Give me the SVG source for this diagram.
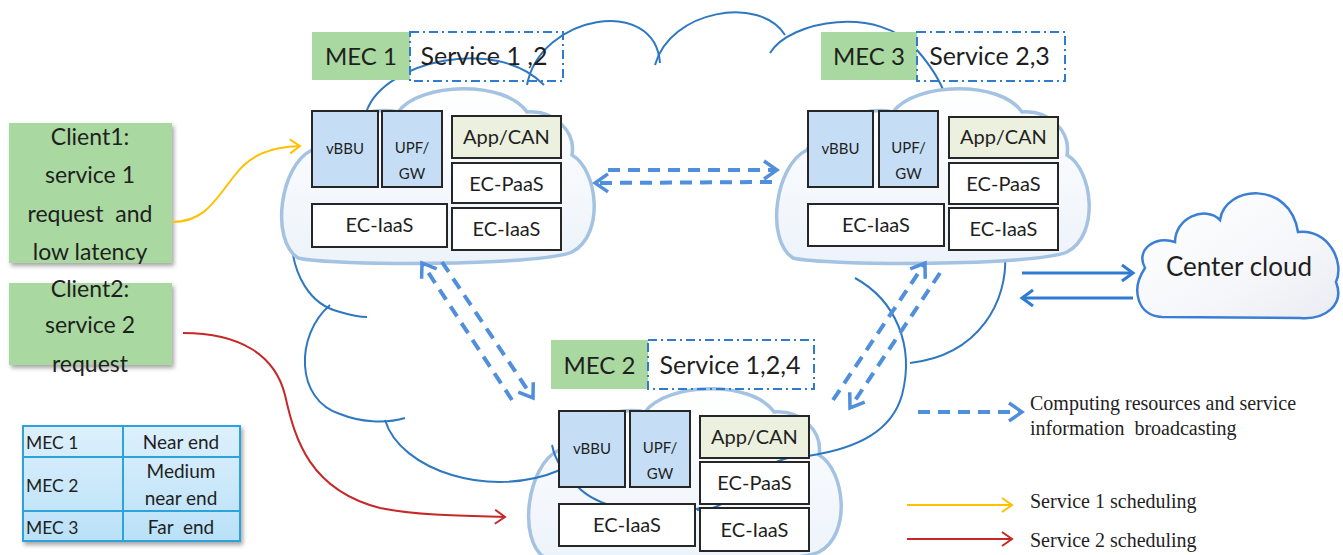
<svg xmlns="http://www.w3.org/2000/svg" width="1343" height="555" viewBox="0 0 1343 555">
<style>
  .ui{font-family:Lato,"Open Sans","Liberation Sans",sans-serif;fill:#1f1f1f}
  .mecName{font-size:24px;text-anchor:middle}
  .svcTxt{font-size:25px;text-anchor:middle}
  .comp{stroke:#262626;stroke-width:2}
  .blueFill{fill:#C5DEF6}
  .appFill{fill:#EBF1DE}
  .plain{fill:#ffffff}
  .greenLbl{fill:#A9D8A0}
  .svcBox{fill:none;stroke:#2F7BD0;stroke-width:2;stroke-dasharray:9 4 2 4}
  .t20{font-size:20px;text-anchor:middle}
  .t15{font-size:15px;text-anchor:middle}
  .bigCloud{fill:none;stroke:#2E78C2;stroke-width:2}
  .mecCloud{fill:url(#mecCloudFill);stroke:#A4C2E2;stroke-width:3.5}
  .bcast{fill:none;stroke:#4F8FDB;stroke-width:4;stroke-dasharray:12 8}
  .toCenter{fill:none;stroke:#2F7BD3;stroke-width:3}
  .svc1{fill:none;stroke:#FFC000;stroke-width:2}
  .svc2{fill:none;stroke:#C62828;stroke-width:2}
  .client{fill:#A9D9A0}
  .clientTxt{font-size:23px;text-anchor:middle}
  .tblTxt{font-size:19px}
  .tblKey{font-size:17.5px}
  .legend{font-family:"Liberation Serif","Times New Roman",serif;font-size:20px;fill:#1f1f1f}
</style>
<defs>
  <linearGradient id="mecCloudFill" x1="0" y1="0" x2="0" y2="1">
    <stop offset="0" stop-color="#FFFFFF"/>
    <stop offset="1" stop-color="#EDF3FA"/>
  </linearGradient>
  <linearGradient id="centerFill" x1="0" y1="0" x2="1" y2="1">
    <stop offset="0" stop-color="#FFFFFF"/>
    <stop offset="0.6" stop-color="#F6F7FA"/>
    <stop offset="1" stop-color="#E9ECF2"/>
  </linearGradient>
  <linearGradient id="cellFill" x1="0" y1="0" x2="0" y2="1">
    <stop offset="0" stop-color="#DDF0FC"/>
    <stop offset="1" stop-color="#B9E1F8"/>
  </linearGradient>
  <filter id="shadow" x="-10%" y="-10%" width="125%" height="130%">
    <feDropShadow dx="2" dy="3" stdDeviation="2" flood-color="#000" flood-opacity="0.35"/>
  </filter>
  <filter id="soft" x="-5%" y="-5%" width="110%" height="110%">
    <feGaussianBlur stdDeviation="0.7"/>
  </filter>
  <path id="mecCloudShape" d="M 298 258 C 270 240, 280 165, 312 150 C 325 122, 370 106, 398 112 C 420 82, 505 80, 527 112 C 555 110, 576 132, 572 155 C 598 170, 605 235, 572 252 C 540 266, 330 266, 298 258 Z"/>
  <marker id="hBcast" viewBox="-16 -11 19 22" refX="0" refY="0" markerWidth="19" markerHeight="22" markerUnits="userSpaceOnUse" orient="auto">
    <path d="M -13 -9 L 0 0 L -13 9" fill="none" stroke="#4F8FDB" stroke-width="3.5"/>
  </marker>
  <marker id="hCenter" viewBox="-14 -10 17 20" refX="0" refY="0" markerWidth="17" markerHeight="20" markerUnits="userSpaceOnUse" orient="auto">
    <path d="M -11 -8 L 0 0 L -11 8" fill="none" stroke="#2F7BD3" stroke-width="3"/>
  </marker>
  <marker id="hYellow" viewBox="-12 -9 14 18" refX="0" refY="0" markerWidth="14" markerHeight="18" markerUnits="userSpaceOnUse" orient="auto">
    <path d="M -10 -7 L 0 0 L -10 7" fill="none" stroke="#FFC000" stroke-width="2"/>
  </marker>
  <marker id="hRed" viewBox="-12 -9 14 18" refX="0" refY="0" markerWidth="14" markerHeight="18" markerUnits="userSpaceOnUse" orient="auto">
    <path d="M -10 -7 L 0 0 L -10 7" fill="none" stroke="#C62828" stroke-width="2"/>
  </marker>
</defs>

<rect width="1343" height="555" fill="#ffffff"/>

<!-- MEC 2 edge cloud sits under the outline of the shared cloud -->
<g id="mec2-cloud">
  <use href="#mecCloudShape" class="mecCloud" filter="url(#soft)" transform="translate(247,300)"/>
</g>

<!-- outline of the shared edge cloud -->
<g id="edge-cloud" class="bigCloud">
  <path d="M 367 110 C 385 62, 495 35, 544 85"/>
  <path d="M 527 85 C 540 15, 655 -5, 660 63"/>
  <path d="M 655 65 C 670 10, 760 -5, 785 35"/>
  <path d="M 770 53 C 790 20, 880 5, 917 50 C 930 65, 940 80, 945 95"/>
  <path d="M 1005 255 C 1008 300, 980 355, 910 363"/>
  <path d="M 855 278 C 895 300, 915 345, 902 395 C 892 430, 860 448, 808 456"/>
  <path d="M 808 456 C 780 455, 755 470, 740 490 C 725 505, 712 510, 697 510"/>
  <path d="M 700 508 C 660 520, 600 510, 578 487 C 565 475, 555 460, 552 445"/>
  <path d="M 385 420 C 400 470, 490 500, 560 470"/>
  <path d="M 330 305 C 295 335, 295 400, 340 414 C 360 422, 385 424, 405 418"/>
  <path d="M 291 235 C 292 275, 310 305, 340 312 C 350 315, 360 317, 367 317"/>
</g>

<g id="mec1-cloud">
  <use href="#mecCloudShape" class="mecCloud" filter="url(#soft)"/>
</g>
<g id="mec3-cloud">
  <use href="#mecCloudShape" class="mecCloud" filter="url(#soft)" transform="translate(495,0)"/>
</g>

<!-- MEC 1 -->
<g id="mec1" class="ui">
  <rect x="312" y="32" width="98" height="48" class="greenLbl"/>
  <text x="361" y="65" class="ui mecName">MEC 1</text>
  <rect x="410" y="32" width="153" height="49" class="svcBox"/>
  <text x="484" y="65" class="ui svcTxt" xml:space="preserve">Service 1 ,2</text>
  <rect x="312" y="111" width="66" height="76" class="comp blueFill"/>
  <text x="345" y="154" class="ui t15">vBBU</text>
  <rect x="382" y="111" width="60" height="76" class="comp blueFill"/>
  <text x="412" y="153" class="ui t15">UPF/</text>
  <text x="412" y="179" class="ui t15">GW</text>
  <rect x="452" y="116" width="109" height="42" class="comp appFill"/>
  <text x="506.5" y="144" class="ui t20">App/CAN</text>
  <rect x="452" y="163" width="109" height="40" class="comp plain"/>
  <text x="506.5" y="191" class="ui t20">EC-PaaS</text>
  <rect x="452" y="208" width="109" height="42" class="comp plain"/>
  <text x="506.5" y="236" class="ui t20">EC-IaaS</text>
  <rect x="312" y="204" width="135" height="43" class="comp plain"/>
  <text x="379.5" y="232" class="ui t20">EC-IaaS</text>
</g>

<!-- MEC 3 -->
<g id="mec3" class="ui">
  <rect x="821" y="32" width="96" height="48" class="greenLbl"/>
  <text x="869" y="65" class="ui mecName">MEC 3</text>
  <rect x="917" y="32" width="148" height="49" class="svcBox"/>
  <text x="989.5" y="65" class="ui svcTxt">Service 2,3</text>
  <rect x="808" y="111" width="65" height="76" class="comp blueFill"/>
  <text x="840.5" y="154" class="ui t15">vBBU</text>
  <rect x="879" y="111" width="59" height="76" class="comp blueFill"/>
  <text x="908.5" y="153" class="ui t15">UPF/</text>
  <text x="908.5" y="179" class="ui t15">GW</text>
  <rect x="949" y="117" width="109" height="41" class="comp appFill"/>
  <text x="1003.5" y="144" class="ui t20">App/CAN</text>
  <rect x="949" y="163" width="109" height="41" class="comp plain"/>
  <text x="1003.5" y="191" class="ui t20">EC-PaaS</text>
  <rect x="949" y="208" width="109" height="42" class="comp plain"/>
  <text x="1003.5" y="236" class="ui t20">EC-IaaS</text>
  <rect x="808" y="204" width="136" height="42" class="comp plain"/>
  <text x="876" y="232" class="ui t20">EC-IaaS</text>
</g>

<!-- MEC 2 -->
<g id="mec2" class="ui">
  <rect x="551" y="340" width="97" height="49" class="greenLbl"/>
  <text x="599.5" y="374" class="ui mecName">MEC 2</text>
  <rect x="648" y="340" width="166" height="49" class="svcBox"/>
  <text x="730" y="374" class="ui svcTxt">Service 1,2,4</text>
  <rect x="559" y="411" width="66" height="76" class="comp blueFill"/>
  <text x="592" y="454" class="ui t15">vBBU</text>
  <rect x="630" y="411" width="60" height="76" class="comp blueFill"/>
  <text x="660" y="453" class="ui t15">UPF/</text>
  <text x="660" y="479" class="ui t15">GW</text>
  <rect x="700" y="416" width="109" height="42" class="comp appFill"/>
  <text x="754.5" y="444" class="ui t20">App/CAN</text>
  <rect x="700" y="462" width="109" height="42" class="comp plain"/>
  <text x="754.5" y="490" class="ui t20">EC-PaaS</text>
  <rect x="700" y="508" width="109" height="43" class="comp plain"/>
  <text x="754.5" y="537" class="ui t20">EC-IaaS</text>
  <rect x="559" y="504" width="136" height="42" class="comp plain"/>
  <text x="627" y="532" class="ui t20">EC-IaaS</text>
</g>

<!-- central cloud -->
<g id="center-cloud">
  <path d="M 1162 317 C 1138 316, 1130 290, 1145 268 C 1135 250, 1155 235, 1175 242 C 1175 218, 1205 205, 1220 220 C 1225 185, 1290 180, 1298 232 C 1328 228, 1345 262, 1336 282 C 1345 305, 1325 320, 1300 318 Z" fill="url(#centerFill)" stroke="#3A7ED6" stroke-width="2.5"/>
  <text x="1239" y="276" class="ui" font-size="26" text-anchor="middle">Center cloud</text>
</g>

<!-- clients -->
<g id="client1" class="ui">
  <rect x="9" y="123" width="163" height="140" class="client" filter="url(#shadow)"/>
  <text x="90" y="145" class="ui clientTxt">Client1:</text>
  <text x="90" y="183" class="ui clientTxt">service 1</text>
  <text x="90" y="222" class="ui clientTxt" xml:space="preserve">request  and</text>
  <text x="90" y="260" class="ui clientTxt">low latency</text>
</g>
<g id="client2" class="ui">
  <rect x="9" y="283" width="163" height="82" class="client" filter="url(#shadow)"/>
  <text x="90" y="297" class="ui clientTxt">Client2:</text>
  <text x="90" y="333" class="ui clientTxt">service 2</text>
  <text x="90" y="372" class="ui clientTxt">request</text>
</g>

<!-- distance table -->
<g id="distance-table" class="ui">
  <rect x="23" y="426" width="217" height="115" fill="url(#cellFill)" stroke="#2EA3DB" stroke-width="2" filter="url(#shadow)"/>
  <path d="M 123 426 V 541 M 23 457 H 240 M 23 511 H 240" stroke="#2EA3DB" stroke-width="2" fill="none"/>
  <text x="26" y="449" class="ui tblKey">MEC 1</text>
  <text x="181" y="449" class="ui tblTxt" text-anchor="middle">Near end</text>
  <text x="26" y="492" class="ui tblKey">MEC 2</text>
  <text x="181" y="478" class="ui tblTxt" text-anchor="middle">Medium</text>
  <text x="181" y="505" class="ui tblTxt" text-anchor="middle">near end</text>
  <text x="26" y="534" class="ui tblKey">MEC 3</text>
  <text x="181" y="534" class="ui tblTxt" text-anchor="middle" xml:space="preserve">Far  end</text>
</g>

<!-- connectors -->
<g id="connectors">
  <path class="bcast" d="M 608 170 L 777 170" marker-end="url(#hBcast)"/>
  <path class="bcast" d="M 772 182 L 595 183" marker-end="url(#hBcast)"/>
  <path class="bcast" d="M 512 400 L 422 263" marker-end="url(#hBcast)"/>
  <path class="bcast" d="M 442 262 L 533 398" marker-end="url(#hBcast)"/>
  <path class="bcast" d="M 833 400 L 925 263" marker-end="url(#hBcast)"/>
  <path class="bcast" d="M 940 273 L 850 408" marker-end="url(#hBcast)"/>
  <path class="toCenter" d="M 1022 273 L 1133 273" marker-end="url(#hCenter)"/>
  <path class="toCenter" d="M 1133 298 L 1022 298" marker-end="url(#hCenter)"/>
  <path class="svc1" d="M 172 222 C 205 222, 215 200, 235 175 C 250 155, 270 147, 300 146" marker-end="url(#hYellow)"/>
  <path class="svc2" d="M 183 333 C 240 333, 275 355, 285 395 C 295 440, 310 490, 380 508 C 420 516, 470 516, 505 517" marker-end="url(#hRed)"/>
</g>

<!-- legend -->
<g id="legend">
  <path class="bcast" d="M 918 412 L 1022 412" stroke-dasharray="14 9" marker-end="url(#hBcast)"/>
  <text x="1030" y="410" class="legend">Computing resources and service</text>
  <text x="1030" y="435" class="legend" xml:space="preserve">information  broadcasting</text>
  <path class="svc1" d="M 907 505 L 1012 505" marker-end="url(#hYellow)"/>
  <text x="1030" y="508" class="legend">Service 1 scheduling</text>
  <path class="svc2" d="M 907 539 L 1012 539" marker-end="url(#hRed)"/>
  <text x="1030" y="547" class="legend">Service 2 scheduling</text>
</g>
</svg>
